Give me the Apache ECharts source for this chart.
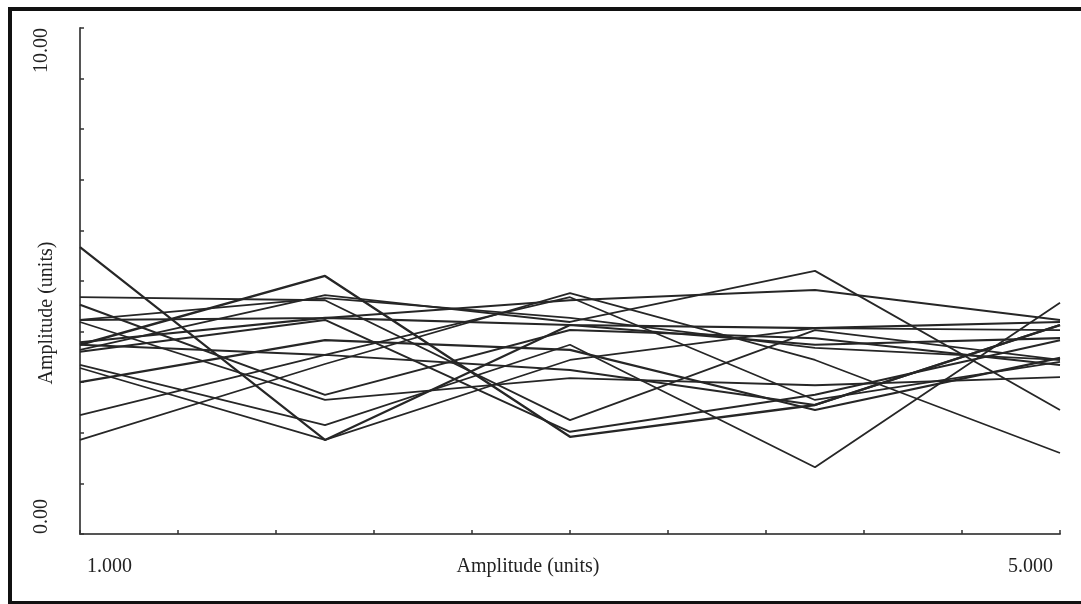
<!DOCTYPE html>
<html>
<head>
<meta charset="utf-8">
<script src="https://cdn.jsdelivr.net/npm/echarts@6/dist/echarts.min.js"></script>
<style>
html,body{margin:0;padding:0;background:#fff;}
#chart{width:1081px;height:604px;}
</style>
</head>
<body>
<div id="chart"></div>
<script>
// x positions of the samples
const xValues = [1, 2, 3, 4, 5];
// tick values / label values
const xTickValues = [1, 1.4, 1.8, 2.2, 2.6, 3, 3.4, 3.8, 4.2, 4.6, 5];
const xLabelValues = [1, 5];
const yTickValues = [0, 1, 2, 3, 4, 5, 6, 7, 8, 9, 10];
const yLabelValues = [0, 10];
// series values (amplitude)
const s1  = [5.67, 1.86, 4.13, 3.74, 3.87];
const s2  = [3.74, 5.10, 1.92, 2.55, 4.13];
const s3  = [3.64, 4.72, 4.19, 5.20, 2.45];
const s4  = [4.23, 4.27, 4.62, 4.82, 4.23];
const s5  = [3.34, 2.15, 3.74, 1.32, 4.57];
const s6  = [4.68, 4.62, 2.25, 4.03, 3.44];
const s7  = [1.86, 3.36, 4.76, 3.44, 1.60];
const s8  = [2.35, 3.54, 4.68, 2.65, 3.40];
const s9  = [4.53, 2.75, 4.03, 3.87, 3.34];
const s10 = [3.00, 3.83, 3.64, 2.45, 3.48];
const s11 = [4.19, 2.65, 3.08, 2.94, 3.10];
const s12 = [3.79, 4.27, 4.13, 4.07, 4.19];
const s13 = [3.60, 4.23, 2.02, 2.75, 3.83];
const s14 = [3.28, 1.86, 3.44, 4.07, 4.03];
const s15 = [4.23, 4.66, 4.27, 3.68, 3.44];
const s16 = [3.74, 3.54, 3.24, 2.55, 4.13];
const allSeries = [s1, s2, s3, s4, s5, s6, s7, s8, s9, s10, s11, s12, s13, s14, s15, s16];
const widths = [2.2, 2.4, 1.8, 2, 1.8, 1.8, 1.7, 1.7, 2, 2.2, 1.8, 2.2, 2, 1.7, 1.8, 2];

const font = 'Liberation Serif';
const chart = echarts.init(document.getElementById('chart'));
chart.setOption({
  backgroundColor: '#fff',
  animation: false,
  graphic: [{
    type: 'rect',
    shape: { x: 10, y: 9, width: 1100, height: 594 },
    style: { fill: 'none', stroke: '#111', lineWidth: 4 },
    silent: true
  }],
  grid: { left: 80, right: 21, top: 28, bottom: 70, containLabel: false, outerBoundsMode: 'none' },
  xAxis: {
    type: 'value', min: 1, max: 5,
    name: 'Amplitude (units)', nameLocation: 'middle', nameGap: 23, nameMoveOverlap: false,
    nameTextStyle: { fontFamily: font, fontSize: 20, color: '#222', padding: [0, 84, 0, 0] },
    axisLine: { lineStyle: { color: '#555', width: 2 } },
    axisTick: { inside: true, length: 4, customValues: xTickValues, lineStyle: { color: '#333', width: 1.5 } },
    axisLabel: {
      customValues: xLabelValues,
      formatter: v => v.toFixed(3),
      alignMinLabel: 'left', alignMaxLabel: 'right',
      margin: 23, fontFamily: font, fontSize: 20, color: '#222',
      padding: [0, 7, 0, 7]
    },
    splitLine: { show: false }
  },
  yAxis: {
    type: 'value', min: 0, max: 10,
    name: 'Amplitude (units)', nameLocation: 'middle', nameGap: 23, nameRotate: 90, nameMoveOverlap: false,
    nameTextStyle: { fontFamily: font, fontSize: 20, color: '#222', padding: [0, 64, 0, 0] },
    axisLine: { show: true, lineStyle: { color: '#555', width: 2 } },
    axisTick: { show: true, inside: true, length: 4, customValues: yTickValues, lineStyle: { color: '#333', width: 1.5 } },
    axisLabel: {
      customValues: yLabelValues,
      formatter: v => v.toFixed(2),
      rotate: 90,
      alignMinLabel: 'left', alignMaxLabel: 'right',
      margin: 28, fontFamily: font, fontSize: 20, color: '#222'
    },
    splitLine: { show: false }
  },
  series: allSeries.map((s, i) => ({
    type: 'line',
    data: s.map((v, j) => [xValues[j], v]),
    symbol: 'none',
    lineStyle: { color: '#262626', width: widths[i] },
    z: 2
  }))
});
</script>
</body>
</html>
